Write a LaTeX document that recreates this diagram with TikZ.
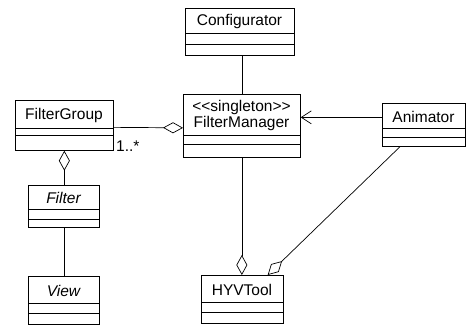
\documentclass[tikz,border=0pt]{standalone}
\usepackage{fontspec}
\setmainfont{Liberation Sans}[Ligatures=TeXOff]
\usetikzlibrary{arrows.meta}
\tikzset{
  ln/.style={line width=0.7pt, black},
  cls/.style={ln, draw, fill=white, rectangle, inner sep=0pt, anchor=north west},
  txt/.style={inner sep=0pt, align=center, font=\fontsize{15.5}{15.5}\selectfont},
  agg/.tip={Diamond[open, length=20pt, width=11pt, line width=0.7pt]},
  nav/.tip={Straight Barb[length=10pt, width=13pt, line width=0.7pt]}
}
\newcommand\umlclass[8]{%
  \node[cls, minimum width={(#4-#2)*1pt}, minimum height={(#5-#3)*1pt}] (#1) at (#2,#3) {};
  \draw[ln] (#2,#6) -- (#4,#6) (#2,#7) -- (#4,#7);
  \node[txt] (#1-t) at ({(#2+#4)/2},{(#3+#6)/2+1}) {#8};
}
\begin{document}
\begin{tikzpicture}[x=1pt, y=-1pt]
  \useasboundingbox (0,0) rectangle (468,326);
  \umlclass{cfg}{185}{8}{294}{55}{33}{44}{Configurator}
  \umlclass{fm}{183}{94}{300}{157}{135}{144}{<\kern0pt<singleton>\kern0pt>\\FilterManager}
  \umlclass{fg}{15}{100}{113}{150}{128}{135}{FilterGroup}
  \umlclass{an}{382}{103}{465}{146}{128}{137}{Animator}
  \umlclass{flt}{28}{185}{99}{227}{209}{219}{\itshape Filter}
  \umlclass{vw}{28}{276}{99}{324}{303}{313}{\itshape View}
  \umlclass{hyv}{201}{275}{283}{323}{302}{312}{HYVTool}
  % connectors
  \draw[ln] (fm.north |- cfg.south) -- (fm.north);
  \draw[ln, -{agg}] ([yshift=-2pt]fg.east) -- ([yshift=-2pt]fm.west);
  \node[txt, anchor=north west] (mult) at (116,141) {1..*};
  \draw[ln, -{nav}] ([yshift=7.5pt]an.west) -- ([yshift=7.5pt]fm.east |- an.west);
  \draw[ln, -{agg}] (fm.south) -- (fm.south |- hyv.north);
  \draw[ln, -{agg}] ([xshift=18pt]an.south west) -- ([xshift=-16pt]hyv.north east);
  \draw[ln, {agg}-] (fg.south) -- (fg.south |- flt.north);
  \draw[ln] (flt.south) -- (vw.north);
\end{tikzpicture}
\end{document}
